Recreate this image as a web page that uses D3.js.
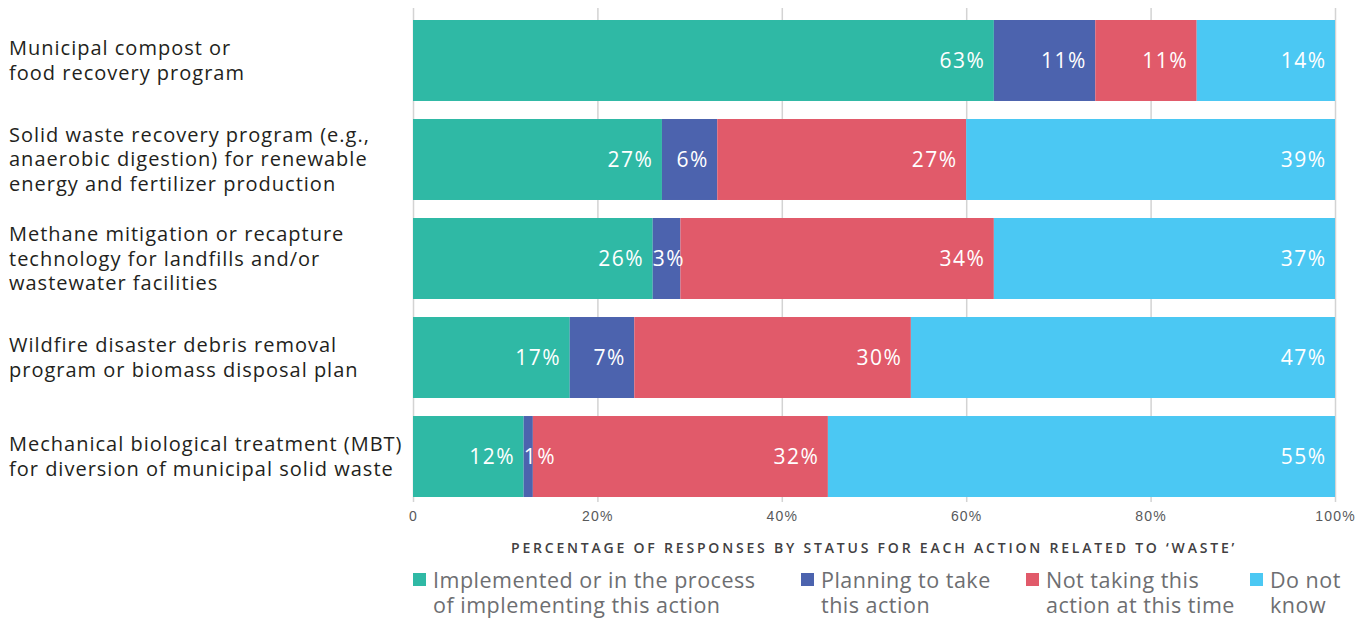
<!DOCTYPE html>
<html lang="en">
<head>
<meta charset="utf-8">
<title>Waste actions</title>
<script src="https://d3js.org/d3.v7.min.js"></script>
<style>
body { margin: 0; background: #fff; font-family: "Open Sans", Lato, sans-serif; }
.cat text { fill: #231f20; font-size: 20px; letter-spacing: 1px; }
.val { fill: #fff; font-size: 21px; letter-spacing: 1.5px; }
.axis text { fill: #58595b; font-size: 14px; letter-spacing: 1.2px; }
.axis path { display: none; }
.axis line { stroke: #d3d3d3; stroke-width: 1.5; }
.atitle { fill: #414042; font-size: 14px; letter-spacing: 2.8px; font-weight: 600; }
.leg text { fill: #6d6e71; font-size: 21.5px; letter-spacing: 0.5px; }
</style>
</head>
<body>
<script>
// categories (multi-line labels)
var actions = [
  ["Municipal compost or", "food recovery program"],
  ["Solid waste recovery program (e.g.,", "anaerobic digestion) for renewable", "energy and fertilizer production"],
  ["Methane mitigation or recapture", "technology for landfills and/or", "wastewater facilities"],
  ["Wildfire disaster debris removal", "program or biomass disposal plan"],
  ["Mechanical biological treatment (MBT)", "for diversion of municipal solid waste"]
];
var implemented = [63, 27, 26, 17, 12];
var planning    = [11, 6, 3, 7, 1];
var notTaking   = [11, 27, 34, 30, 32];
var dontKnow    = [14, 39, 37, 47, 55];

var seriesNames = [
  ["Implemented or in the process", "of implementing this action"],
  ["Planning to take", "this action"],
  ["Not taking this", "action at this time"],
  ["Do not", "know"]
];
var colors = ["#2fb9a5", "#4c63ae", "#e15a6a", "#4bc8f3"];
var tickVals = [0, 20, 40, 60, 80, 100];

var width = 1371, height = 621;
var left = 413, right = 1335;

var svg = d3.select("body").append("svg")
  .attr("width", width).attr("height", height);

var x = d3.scaleLinear().domain([0, 100]).range([left, right]);
var y = d3.scaleBand().domain(d3.range(actions.length)).range([20, 497]).paddingInner(0.182);

// gridlines + ticks
var axis = svg.append("g")
  .attr("class", "axis")
  .attr("transform", "translate(0,502)")
  .call(d3.axisBottom(x).tickValues(tickVals).tickSize(494)
    .tickFormat(function(d) { return d === 0 ? "0" : d + "%"; }));
axis.selectAll("line").attr("y1", -494).attr("y2", 0);
axis.selectAll("text").attr("dy", "0.71em").attr("y", 9);

// stacked rows
var series = [implemented, planning, notTaking, dontKnow];
var segs = [];
actions.forEach(function(a, i) {
  var start = 0;
  series.forEach(function(s, k) {
    var end = start + s[i];
    if (k === series.length - 1) end = 100; // last segment fills to the edge
    segs.push({row: i, k: k, v: s[i], x0: start, x1: end});
    start += s[i];
  });
});

svg.append("g").selectAll("rect")
  .data(segs).join("rect")
  .attr("x", function(d) { return x(d.x0); })
  .attr("y", function(d) { return y(d.row); })
  .attr("width", function(d) { return x(d.x1) - x(d.x0); })
  .attr("height", y.bandwidth())
  .attr("fill", function(d) { return colors[d.k]; });

svg.append("g").selectAll("text")
  .data(segs).join("text")
  .attr("class", "val")
  .attr("y", function(d) { return y(d.row) + y.bandwidth() / 2; })
  .attr("dy", "0.36em")
  .attr("text-anchor", "end")
  .text(function(d) { return d.v + "%"; })
  .attr("x", function(d) {
    var w = this.getComputedTextLength();
    return Math.max(x(d.x1) - 8.5, x(d.x0) + w);
  });

// category labels
var cat = svg.append("g").attr("class", "cat");
actions.forEach(function(lines, i) {
  var cy = y(i) + y.bandwidth() / 2;
  var t = cat.append("text").attr("x", 9);
  lines.forEach(function(l, j) {
    t.append("tspan").attr("x", 9)
      .attr("y", cy + (j - (lines.length - 1) / 2) * 24.5)
      .attr("dy", "0.35em").text(l);
  });
});

// axis title
svg.append("text").attr("class", "atitle")
  .attr("x", (left + right) / 2).attr("y", 553)
  .attr("text-anchor", "middle")
  .text("PERCENTAGE OF RESPONSES BY STATUS FOR EACH ACTION RELATED TO \u2018WASTE\u2019");

// legend
var legX = [413, 801, 1026, 1250];
var leg = svg.append("g").attr("class", "leg");
seriesNames.forEach(function(lines, k) {
  leg.append("rect").attr("x", legX[k]).attr("y", 573)
    .attr("width", 13).attr("height", 13).attr("fill", colors[k]);
  var t = leg.append("text");
  lines.forEach(function(l, j) {
    t.append("tspan").attr("x", legX[k] + 20).attr("y", 580 + j * 25)
      .attr("dy", "0.35em").text(l);
  });
});
</script>
</body>
</html>
